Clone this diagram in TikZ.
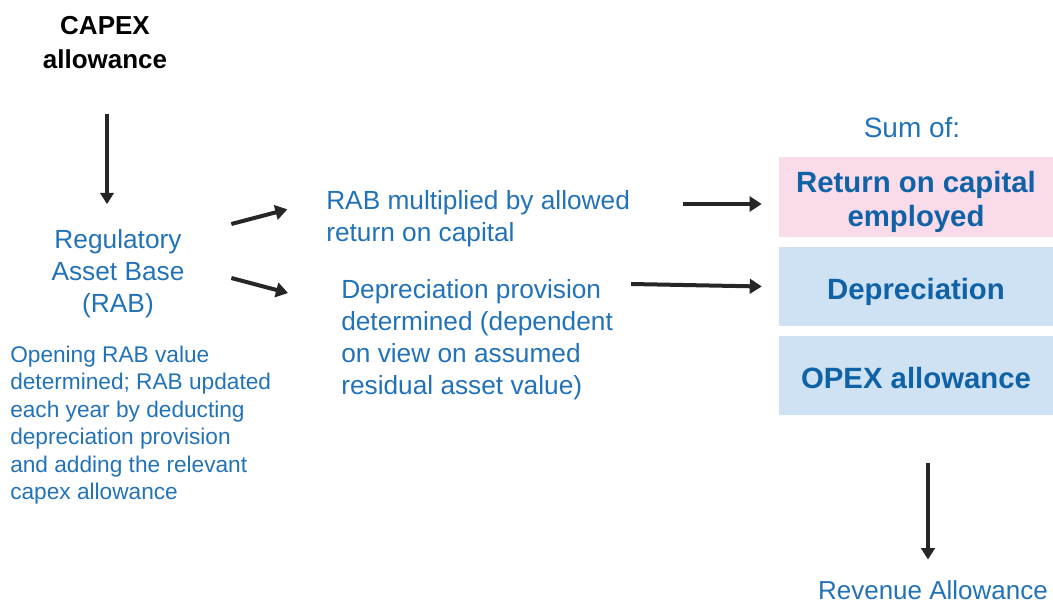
\documentclass[tikz,border=0pt]{standalone}
\usepackage{fontspec}
\setmainfont{Liberation Sans}
\usetikzlibrary{arrows.meta}
\definecolor{txtblue}{HTML}{2272B8}
\definecolor{boxblue}{HTML}{CFE2F3}
\definecolor{boxpink}{HTML}{FADBEA}
\definecolor{boxtext}{HTML}{0F62A6}
\definecolor{arrowgray}{HTML}{262626}

\begin{document}
\begin{tikzpicture}[x=0.75pt,y=-0.75pt,>={Triangle[length=9pt,width=11pt]}]
  \def\bw{205.5pt}

\tikzstyle{bluetext}=[inner sep=0pt,text=txtblue,font=\fontsize{19.7}{24}\selectfont]
\tikzstyle{smalltext}=[inner sep=0pt,text=txtblue,align=left,font=\fontsize{17}{20.6}\selectfont]
\tikzstyle{heading}=[inner sep=0pt,align=center,font=\fontsize{19.5}{25.5}\selectfont\bfseries]
\tikzstyle{sumbox}=[fill=boxblue,minimum width=\bw,inner ysep=0pt,text height=39.4pt,text depth=19.9pt,text=boxtext,align=center,font=\fontsize{22}{25.5}\selectfont\bfseries]
\tikzstyle{link}=[->,draw=arrowgray,line width=3pt]
\tikzstyle{downlink}=[-{Triangle[length=8.5pt,width=10pt]},draw=arrowgray,line width=2.4pt]
\useasboundingbox (0,0) rectangle (1053,603);
\node[heading] (capex) at (105,42.5) {CAPEX\\allowance};
\node[bluetext][align=center] (rab) at (118,274) {Regulatory\\Asset Base\\(RAB)};
\node[smalltext][anchor=west] (opening) at (10,425) {Opening RAB value\\determined; RAB updated\\each year by deducting\\depreciation provision\\and adding the relevant\\capex allowance};
\node[bluetext][anchor=west,align=left] (mult) at (326,219) {RAB multiplied by allowed\\return on capital};
\node[bluetext][anchor=west,align=left] (dep) at (341,340) {Depreciation provision\\determined (dependent\\on view on assumed\\residual asset value)};
\node[bluetext][font=\fontsize{21}{25}\selectfont] (sumof) at (912,128) {Sum of:};
\node[sumbox][fill=boxpink,text height=52.1pt,text depth=7.9pt] (roce) at (916,197) {Return on capital\\employed};
\node[sumbox] (deprec) at (916,286.5) {Depreciation};
\node[sumbox] (opex) at (916,375.5) {OPEX allowance};
\node[bluetext][font=\fontsize{19.5}{23}\selectfont] (rev) at (933,590) {Revenue Allowance};
\draw[downlink] ([xshift=1.5pt,yshift=-34pt]capex.south) -- ([xshift=-8.25pt,yshift=19pt]rab.north);
\draw[link] ([xshift=35pt,yshift=37.5pt]rab.east) -- ([xshift=-29pt,yshift=7.25pt]mult.west);
\draw[link] ([xshift=35pt,yshift=-3pt]rab.east) -- ([xshift=-39.75pt,yshift=35.25pt]dep.west);
\draw[link] ([xshift=39.75pt,yshift=11.25pt]mult.east) -- ([xshift=-12.75pt,yshift=-5.25pt]roce.west);
\draw[link] ([xshift=13.5pt,yshift=42pt]dep.east) -- ([xshift=-12.75pt]deprec.west);
\draw[downlink] ([xshift=9pt,yshift=-36pt]opex.south) -- ([xshift=-3.75pt,yshift=15.5pt]rev.north);
\end{tikzpicture}
\end{document}
